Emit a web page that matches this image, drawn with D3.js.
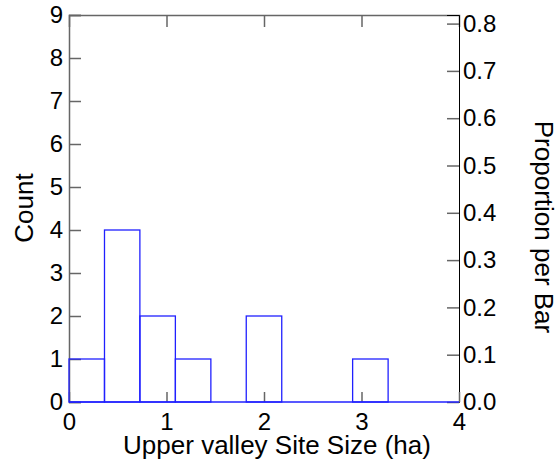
<!DOCTYPE html>
<html>
<head>
<meta charset="utf-8">
<script src="https://cdn.jsdelivr.net/npm/d3@7"></script>
<style>
  body { margin: 0; background: #fff; }
  svg text { font-family: "Liberation Sans", Arial, sans-serif; fill: #000; }
</style>
</head>
<body>
<svg id="chart"></svg>
<script>
// histogram bins (ha) and counts
const binStarts = [0, 0.364, 0.727, 1.091, 1.455, 1.818, 2.182, 2.545, 2.909, 3.273, 3.636];
const binEnds   = [0.364, 0.727, 1.091, 1.455, 1.818, 2.182, 2.545, 2.909, 3.273, 3.636, 4];
const counts    = [1, 4, 2, 1, 0, 2, 0, 0, 1, 0, 0];
const xTicks = [0, 1, 2, 3, 4];
const countTicks = [0, 1, 2, 3, 4, 5, 6, 7, 8, 9];
const propTicks = [0, 0.1, 0.2, 0.3, 0.4, 0.5, 0.6, 0.7, 0.8];

const W = 560, H = 466;
const margin = {top: 15, right: 101, bottom: 64, left: 69};
const width = W - margin.left - margin.right;
const height = H - margin.top - margin.bottom;
const total = d3.sum(counts);

const svg = d3.select('#chart').attr('width', W).attr('height', H);
const g = svg.append('g').attr('transform', `translate(${margin.left},${margin.top})`);

const x = d3.scaleLinear().domain([0, 4]).range([0, width]);
const y = d3.scaleLinear().domain([0, 9]).range([height, 0]);
const yProp = d3.scaleLinear().domain([0, 9 / total]).range([height, 0]);

const tickFont = '24px';
const titleFont = '26px';

// top frame with inward ticks
g.append('g').call(d3.axisTop(x).tickValues([1, 2, 3]).tickSize(-12).tickFormat(''))
  .call(a => a.selectAll('path,line').attr('stroke', '#666').attr('stroke-width', 1.5));

// left count axis
g.append('g').attr('class', 'y-axis')
  .call(d3.axisLeft(y).tickValues(countTicks).tickSize(-12).tickPadding(6))
  .call(a => a.selectAll('path,line').attr('stroke', '#666').attr('stroke-width', 1.5))
  .call(a => a.selectAll('text').style('font-size', tickFont));

// right proportion axis
g.append('g').attr('transform', `translate(${width},0)`)
  .call(d3.axisRight(yProp).tickValues(propTicks).tickSize(-12).tickPadding(4).tickFormat(d3.format('.1f')))
  .call(a => a.selectAll('path').attr('stroke', '#000'))
  .call(a => a.selectAll('line').attr('stroke', '#666').attr('stroke-width', 1.5))
  .call(a => a.selectAll('text').style('font-size', tickFont));

// bottom axis
g.append('g').attr('transform', `translate(0,${height})`)
  .call(d3.axisBottom(x).tickValues(xTicks).tickSize(-10).tickPadding(11).tickFormat(d3.format('d')))
  .call(a => a.select('.domain').remove())
  .call(a => a.selectAll('line').attr('stroke', '#666').attr('stroke-width', 1.5))
  .call(a => a.selectAll('text').style('font-size', tickFont));

// bars
const bars = binStarts.map((s, i) => ({x0: s, x1: binEnds[i], n: counts[i]}));
g.append('g').attr('id', 'bars').selectAll('rect').data(bars.filter(d => d.n > 0)).enter()
  .append('rect')
  .attr('x', d => x(d.x0)).attr('width', d => x(d.x1) - x(d.x0))
  .attr('y', d => y(d.n)).attr('height', d => y(0) - y(d.n))
  .attr('fill', 'none').attr('stroke', '#2020ff').attr('stroke-width', 1.3);
g.append('line')
  .attr('x1', x(0)).attr('x2', x(4)).attr('y1', y(0)).attr('y2', y(0))
  .attr('stroke', '#2020ff').attr('stroke-width', 1.5);

// axis titles
svg.append('text').attr('x', 277).attr('y', 454).attr('text-anchor', 'middle')
  .style('font-size', titleFont).text('Upper valley Site Size (ha)');
svg.append('text').attr('transform', 'translate(33,208) rotate(-90)').attr('text-anchor', 'middle')
  .style('font-size', titleFont).text('Count');
svg.append('text').attr('transform', 'translate(535,227) rotate(90)').attr('text-anchor', 'middle')
  .style('font-size', titleFont).text('Proportion per Bar');
</script>
</body>
</html>
